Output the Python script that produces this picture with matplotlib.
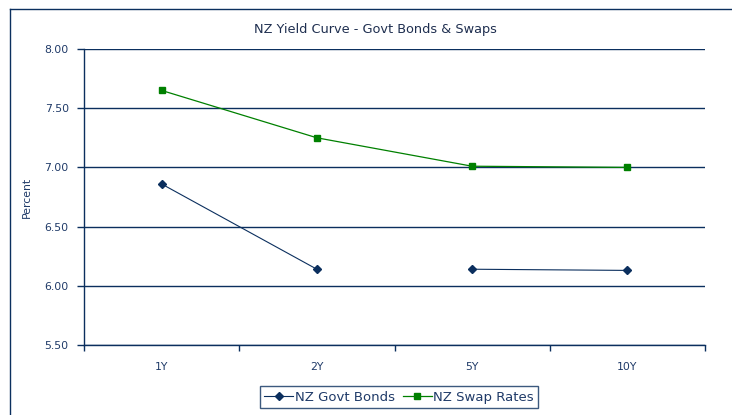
import matplotlib
matplotlib.use("Agg")
import matplotlib.pyplot as plt
from matplotlib.lines import Line2D
import numpy as np

categories = ["1Y", "2Y", "5Y", "10Y"]
govt_bonds = [6.86, 6.14, 6.14, 6.13]
swap_rates = [7.65, 7.25, 7.01, 7.00]
y_ticks = [5.50, 6.00, 6.50, 7.00, 7.50, 8.00]

navy = "#0B2F5E"
green = "#008000"
text_c = "#1F3A68"

plt.rcParams['font.family'] = ['DejaVu Sans']
W, H = 732, 415
fig = plt.figure(figsize=(W/100, H/100), dpi=100)
ax = fig.add_axes([84/W, 1-345/H, (705-84)/W, (345-49)/H])

x = np.arange(len(categories))
# Govt bonds: segments 1Y-2Y and 5Y-10Y (gap between 2Y and 5Y)
ax.plot(x[:2], govt_bonds[:2], color=navy, lw=0.8, marker='D', ms=4, mfc=navy, mec=navy)
ax.plot(x[2:], govt_bonds[2:], color=navy, lw=0.8, marker='D', ms=4, mfc=navy, mec=navy)
ax.plot(x, swap_rates, color=green, lw=0.9, marker='s', ms=5, mfc=green, mec=green)

ax.set_xlim(-0.5, len(categories) - 0.5)
ax.set_ylim(5.5, 8.0)
ax.set_yticks(y_ticks)
ax.set_yticklabels([f"{v:.2f}" for v in y_ticks], fontsize=7.8, color=text_c)
ax.set_xticks(x)
ax.set_xticklabels(categories, fontsize=7.8, color=text_c)
ax.set_xticks(np.arange(-0.5, len(categories)), minor=True)
ax.tick_params(axis='x', which='major', length=0, pad=12)
ax.tick_params(axis='x', which='minor', length=4, width=1, color=navy, direction='out')
ax.tick_params(axis='y', length=5, width=1, color=navy, pad=6)
ax.grid(axis='y', color=navy, lw=1)
ax.set_axisbelow(True)
for s in ['top', 'right']:
    ax.spines[s].set_visible(False)
for s in ['left', 'bottom']:
    ax.spines[s].set_color(navy)
    ax.spines[s].set_linewidth(1)

ax.set_ylabel("Percent", fontsize=7.8, color=text_c, labelpad=9)
fig.text(375/W, 1-30/H, "NZ Yield Curve - Govt Bonds & Swaps", ha='center', va='center',
         fontsize=9.3, color="#1F2F50")

handles = [Line2D([0], [0], color=navy, lw=0.8, marker='D', ms=4),
           Line2D([0], [0], color=green, lw=0.9, marker='s', ms=4)]
leg = fig.legend(handles, ["NZ Govt Bonds", "NZ Swap Rates"], loc='center',
                 bbox_to_anchor=(399/W, 1-397/H), ncol=2, fontsize=9.5, frameon=True,
                 fancybox=False, handlelength=2.2, handletextpad=0.1, columnspacing=0.6,
                 borderpad=0.35, labelcolor=text_c)
leg.get_frame().set_edgecolor(navy)
leg.get_frame().set_linewidth(1)

# outer chart border
fig.add_artist(Line2D([10/W, 1], [1-9/H, 1-9/H], color=navy, lw=1, transform=fig.transFigure))
fig.add_artist(Line2D([10/W, 10/W], [0, 1-9/H], color=navy, lw=1, transform=fig.transFigure))

fig.savefig("out.png", dpi=100)
